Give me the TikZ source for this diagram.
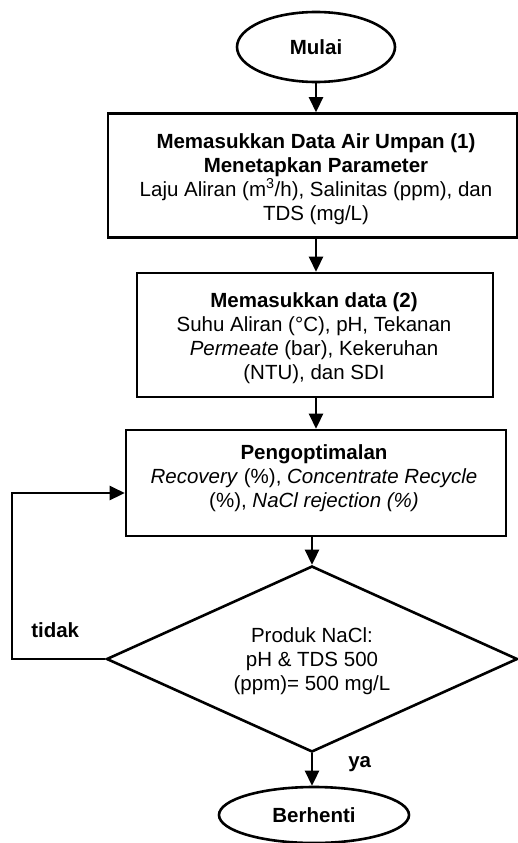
\documentclass[tikz,border=0pt]{standalone}
\usepackage{fontspec}
\setmainfont{Liberation Sans}
\usetikzlibrary{shapes.geometric,arrows.meta}
\begin{document}
\begin{tikzpicture}[x=1pt,y=-1pt,
  line width=2.6pt,
  txt/.style={align=center,font=\fontsize{20.5}{24}\selectfont,inner sep=0pt},
  lbl/.style={font=\bfseries\fontsize{20.5}{24}\selectfont,inner sep=0pt},
  boxshape/.style={draw,rectangle,inner sep=0pt},
  term/.style={draw,ellipse,inner sep=0pt,font=\bfseries\fontsize{20.5}{24}\selectfont},
  arr/.style={-{Triangle[length=15pt,width=14pt]},line width=2.6pt}
]
\useasboundingbox (0,0) rectangle (518,843);
% terminals
\node[term,minimum width=158pt,minimum height=70pt] (mulai) at (316,47) {Mulai};
\node[term,minimum width=190pt,minimum height=56pt] (stop) at (314,815) {Berhenti};
% boxes
\node[boxshape,minimum width=409pt,minimum height=124pt] (box1) at (312.5,175.5) {};
\node[txt] (t1) at (316,179) {\textbf{Memasukkan Data Air Umpan (1)}\\\textbf{Menetapkan Parameter}\\Laju Aliran (m\textsuperscript{3}/h), Salinitas (ppm), dan\\TDS (mg/L)};
\node[boxshape,minimum width=356pt,minimum height=124pt] (box2) at (315,335) {};
\node[txt] (t2) at (314,338) {\textbf{Memasukkan data (2)}\\Suhu Aliran (°C), pH, Tekanan\\\textit{Permeate} (bar), Kekeruhan\\(NTU), dan SDI};
\node[boxshape,minimum width=380pt,minimum height=106pt] (box3) at (316,483) {};
\node[txt] (t3) at (314,478) {\textbf{Pengoptimalan}\\\textit{Recovery} (\%), \textit{Concentrate Recycle}\\(\%), \textit{NaCl rejection (\%)}};
% decision
\node[draw,diamond,minimum width=411pt,minimum height=186pt,inner sep=0pt] (dec) at (312,659) {};
\node[txt] (t4) at (312,661) {Produk NaCl:\\pH \& TDS 500\\(ppm)= 500 mg/L};
% labels
\node[lbl,anchor=base west] (tidak) at (30,637) {tidak};
\node[lbl,anchor=base west] (ya) at (347,767) {ya};
% connectors
\coordinate (lc) at (12,493);
\draw[arr] (mulai.south) -- (mulai.south |- box1.north);
\draw[arr] (box1.south -| mulai.south) -- (box2.north -| mulai.south);
\draw[arr] (box2.south -| mulai.south) -- (box3.north -| mulai.south);
\draw[arr] (box3.south -| dec.north) -- (dec.north);
\draw[arr] (dec.south) -- (dec.south |- stop.north);
\draw[arr] (dec.west) -| (lc) -- ([yshift=-10pt]box3.west);
\end{tikzpicture}
\end{document}
